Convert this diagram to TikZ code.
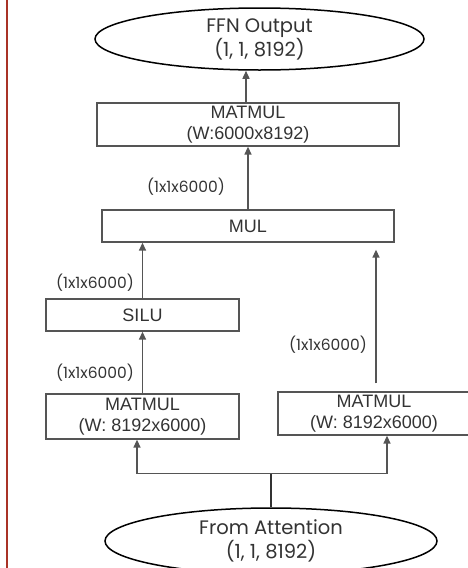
\documentclass[tikz,border=0pt]{standalone}
\usepackage{fontspec}
\setmainfont{Liberation Sans}
\newfontfamily\lblfont{Poppins}
\usepackage{tikz}
\usetikzlibrary{positioning,arrows.meta,calc,shapes.geometric}
\definecolor{edgegray}{HTML}{555555}
\definecolor{txtgray}{HTML}{333333}
\definecolor{marginred}{HTML}{A93226}
\tikzset{
  >={Triangle[length=8pt,width=7pt]},
  opbox/.style={draw=edgegray,line width=1.3pt,rectangle,inner sep=1pt,
    text=txtgray,font=\fontsize{18}{21.5}\selectfont,align=center},
  ioell/.style={draw=black,line width=1.5pt,ellipse,inner sep=0pt,
    text=txtgray,font=\lblfont\fontsize{19.5}{24}\selectfont,align=center},
  flow/.style={->,draw=edgegray,line width=1.4pt},
  fork/.style={draw=txtgray,line width=1.4pt},
  dimlbl/.style={text=txtgray,font=\lblfont\fontsize{15.5}{17}\selectfont,inner sep=0pt},
}
\begin{document}
\begin{tikzpicture}[x=1pt,y=1pt]
  \useasboundingbox (0,0) rectangle (467,-568);
  \draw[marginred,line width=2pt] (7,0) -- (7,-568);
  % output and input
  \node[ioell,minimum width=329pt,minimum height=62pt] (out) at (259.5,-39)
    {FFN Output\\(1, 1, 8192)};
  \node[ioell,minimum width=332pt,minimum height=66pt] (inp) at (271,-541)
    {From Attention\\(1, 1, 8192)};
  % operators
  \node[opbox,minimum width=302pt,minimum height=43pt] (mmout) at (248,-124.5)
    {MATMUL\\(W:6000x8192)};
  \node[opbox,minimum width=292pt,minimum height=32pt] (mul) at (248,-226) {MUL};
  \node[opbox,minimum width=193pt,minimum height=32pt] (silu) at (142.5,-315) {SILU};
  \node[opbox,minimum width=193pt,minimum height=45pt] (mmgate) at (142.5,-416.5)
    {MATMUL\\(W: 8192x6000)};
  \node[opbox,minimum width=192pt,minimum height=43pt] (mmup) at (374,-413.5)
    {MATMUL\\(W: 8192x6000)};
  % shape labels
  \node[dimlbl] (l1) at (186,-187) {(1x1x6000)};
  \node[dimlbl] (l2) at (95,-283) {(1x1x6000)};
  \node[dimlbl] (l3) at (95,-373) {(1x1x6000)};
  \node[dimlbl] (l4) at (328,-345) {(1x1x6000)};
  % connectors
  \draw[flow] ([xshift=-2pt]mmout.north) -- ([xshift=-2pt]mmout.north |- out.south);
  \draw[flow] (mul.north) -- (mmout.south);
  \draw[flow] (silu.north) -- (silu.north |- mul.south);
  \draw[flow] (mmgate.north) -- (silu.south);
  \coordinate (upsrc) at ([xshift=2pt,yshift=8pt]mmup.north);
  \draw[flow,shorten >=7pt] (upsrc) -- (upsrc |- mul.south);
  \coordinate (split) at ($(inp.north)+(0,34)$);
  \coordinate (gatein) at ([xshift=-5.5pt]mmgate.south);
  \coordinate (upin) at ([xshift=13pt]mmup.south);
  \draw[fork] (inp.north) -- (split);
  \draw[flow] (split) -| (gatein);
  \draw[flow] (split) -| (upin);
\end{tikzpicture}
\end{document}
